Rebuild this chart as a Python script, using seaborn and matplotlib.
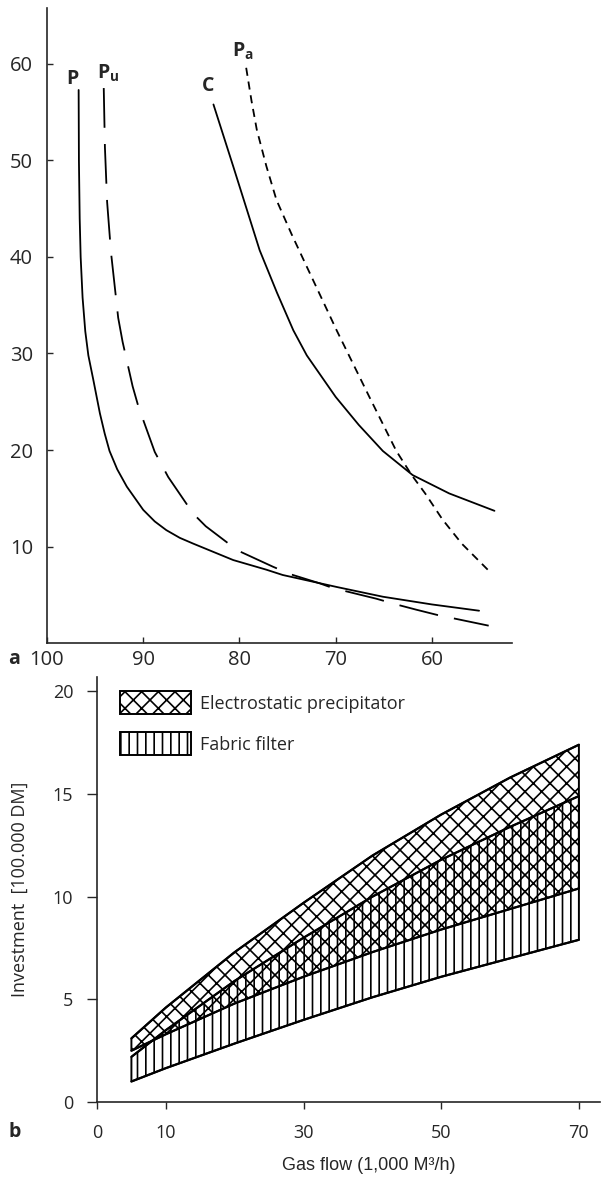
import matplotlib
matplotlib.use("Agg")
import matplotlib.pyplot as plt
import pandas as pd
import seaborn as sns

# ---- panel a: curves (x axis runs 100 -> 52) ----
p_x = [96.71, 96.68, 96.6, 96.5, 96.3, 96.02, 95.7, 95.19, 94.5, 94.0, 93.5, 92.7, 91.7, 90.0, 88.8, 87.6, 86.2, 84.8, 80.65, 77.2, 75.5, 69.85, 65.1, 60.0, 55.1]
p_y = [57.3, 50.0, 44.0, 40.0, 35.8, 32.3, 29.8, 27.3, 23.8, 21.7, 19.9, 18.0, 16.2, 13.8, 12.6, 11.7, 10.9, 10.3, 8.6, 7.6, 7.05, 5.8, 4.8, 4.0, 3.35]

pu_x = [94.1, 93.98, 93.75, 93.35, 92.6, 92.14, 91.1, 90.5, 88.8, 87.4, 84.8, 83.5, 80.2, 76.5, 74.6, 71.7, 70.3, 65.8, 63.7, 61.6, 59.4, 54.1]
pu_y = [57.5, 51.4, 45.7, 40.5, 33.7, 31.2, 26.6, 24.5, 19.8, 17.2, 13.4, 12.1, 9.6, 7.9, 7.1, 6.2, 5.7, 4.6, 4.0, 3.45, 2.9, 1.8]

c_x = [82.7, 80.65, 77.9, 76.1, 74.4, 73.0, 70.0, 67.6, 65.1, 62.0, 58.2, 53.5]
c_y = [55.8, 49.4, 40.7, 36.3, 32.4, 29.8, 25.5, 22.6, 19.9, 17.4, 15.5, 13.7]

pa_x = [79.3, 78.75, 78.2, 77.2, 76.15, 74.6, 73.1, 69.9, 66.5, 63.7, 62.1, 60.7, 58.9, 56.9, 54.2]
pa_y = [59.6, 56.2, 53.2, 49.4, 45.9, 42.4, 39.2, 32.4, 25.5, 19.9, 17.4, 15.5, 12.8, 10.3, 7.6]

curve_names = ["P", "Pu", "C", "Pa"]
curve_labels = {"P": r"$\mathbf{P}$", "Pu": r"$\mathbf{P_u}$", "C": r"$\mathbf{C}$", "Pa": r"$\mathbf{P_a}$"}

# ---- panel b: investment bands vs gas flow ----
gas_flow = [5, 10, 20, 30, 40, 50, 60, 70]
esp_low = [2.5, 3.3, 4.8, 6.1, 7.3, 8.4, 9.4, 10.4]
esp_high = [3.1, 4.6, 7.3, 9.7, 12.0, 14.0, 15.8, 17.4]
ff_low = [1.0, 1.65, 2.85, 4.0, 5.1, 6.1, 7.0, 7.9]
ff_high = [2.2, 3.5, 5.9, 8.0, 10.0, 11.8, 13.4, 14.9]

sns.set_theme(style="ticks")
plt.rcParams["font.family"] = ["Open Sans", "DejaVu Sans"]
plt.rcParams["mathtext.fontset"] = "custom"
plt.rcParams["mathtext.bf"] = "Open Sans:bold"
plt.rcParams["mathtext.rm"] = "Open Sans"
plt.rcParams["hatch.linewidth"] = 1.2
plt.rcParams["axes.linewidth"] = 1.2

fig = plt.figure(figsize=(6.1, 11.86), dpi=100)
ax_a = fig.add_axes([0.077, 0.4578, 0.762, 0.5355])
ax_b = fig.add_axes([0.159, 0.0708, 0.825, 0.3584])

# panel a
curves = pd.concat([
    pd.DataFrame({"eff": p_x, "val": p_y, "curve": "P"}),
    pd.DataFrame({"eff": pu_x, "val": pu_y, "curve": "Pu"}),
    pd.DataFrame({"eff": c_x, "val": c_y, "curve": "C"}),
    pd.DataFrame({"eff": pa_x, "val": pa_y, "curve": "Pa"}),
])
sns.lineplot(data=curves, x="eff", y="val", style="curve", units="curve",
             dashes={"P": "", "Pu": (22, 9), "C": "", "Pa": (4.5, 3.2)},
             color="black", linewidth=1.3, sort=False, estimator=None,
             legend=False, ax=ax_a)

# curve names sit just above each curve's first point (x axis is reversed)
first_pts = curves.groupby("curve").first()
label_offsets = {"P": (0.6, 0.2), "Pu": (-0.43, 0.4), "C": (0.58, 1.0), "Pa": (0.35, 0.6)}
for name in curve_names:
    dx, dy = label_offsets[name]
    ax_a.text(first_pts.loc[name, "eff"] + dx, first_pts.loc[name, "val"] + dy,
              curve_labels[name], ha="center", va="bottom", fontsize=14)

ax_a.set_xlim(100, 51.7)
ax_a.set_ylim(0, 65.8)
ax_a.set_xticks([100, 90, 80, 70, 60])
ax_a.set_yticks([10, 20, 30, 40, 50, 60])
ax_a.tick_params(direction="in", length=4, width=1, labelsize=14.5)
ax_a.tick_params(axis="x", pad=5)
ax_a.tick_params(axis="y", pad=10)
ax_a.set_xlabel("")
ax_a.set_ylabel("")
sns.despine(ax=ax_a)

# panel b
for vals in (esp_low, esp_high, ff_low, ff_high):
    sns.lineplot(x=gas_flow, y=vals, color="black", linewidth=1.6, ax=ax_b)
ax_b.fill_between(gas_flow, ff_low, ff_high, facecolor="none", edgecolor="black",
                  hatch="||", linewidth=1.4, label="Fabric filter")
ax_b.fill_between(gas_flow, esp_low, esp_high, facecolor="none", edgecolor="black",
                  hatch="xx", linewidth=1.4, label="Electrostatic precipitator")
handles, labels = ax_b.get_legend_handles_labels()
ax_b.legend(handles[::-1], labels[::-1], loc="upper left", bbox_to_anchor=(0.046, 0.967),
            frameon=False, fontsize=13, handlelength=3.9, handleheight=1.6,
            handletextpad=0.55, labelspacing=1.0, borderaxespad=0, borderpad=0)

ax_b.set_xlim(0, 73.1)
ax_b.set_ylim(0, 20.7)
ax_b.set_xticks([0, 10, 30, 50, 70])
ax_b.set_yticks([0, 5, 10, 15, 20])
ax_b.tick_params(direction="out", labelsize=13)
ax_b.tick_params(axis="y", length=7, width=1, pad=10)
ax_b.tick_params(axis="x", length=5, width=1, pad=11)
ax_b.set_ylabel("Investment  [100.000 DM]", fontsize=13)
ax_b.yaxis.set_label_coords(-0.135, 0.5)
ax_b.set_xlabel("Gas flow (1,000 M³/h)", fontsize=13, family=["Liberation Sans", "DejaVu Sans"])
ax_b.xaxis.set_label_coords(0.54, -0.13)
sns.despine(ax=ax_b)

fig.text(8 / 610, 1 - 664 / 1186, "a", fontsize=14, fontweight="bold", va="baseline")
fig.text(9 / 610, 1 - 1137 / 1186, "b", fontsize=14, fontweight="bold", va="baseline")

fig.savefig("out.png", dpi=100)
